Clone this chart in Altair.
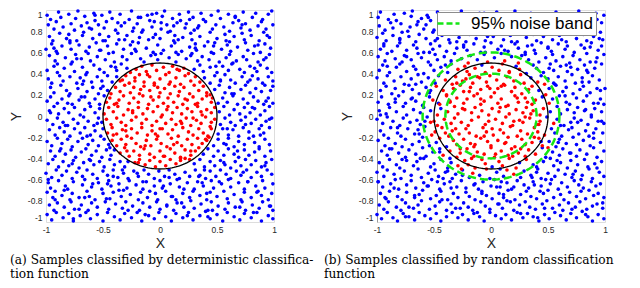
import altair as alt
import numpy as np
import pandas as pd

# ---------------- data (coordinates in hundredths) ----------------
LEFT_BLUE = [
(-99,95),(-96,91),(-89,98),(-87,93),(-80,96),(-74,92),(-72,99),(-66,94),(-58,97),(-57,90),(-51,95),(-44,98),(-42,92),(-35,96),(-27,91),(-25,99),(-19,93),(-11,95),(-9,90),(-3,97),(2,94),(4,99),(11,92),(17,96),(18,90),(25,98),(29,93),(36,97),(38,91),(45,95),(51,99),(53,92),(60,96),(66,94),(69,90),(73,98),(81,93),(84,97),(90,91),(95,96),(98,99),
(-98,86),(-93,82),(-91,89),(-85,84),(-78,87),(-75,81),(-69,85),(-64,88),(-60,82),(-54,86),(-49,83),(-47,89),(-39,81),(-34,85),(-31,88),(-23,83),(-20,87),(-15,81),(-7,84),(-5,89),(1,82),(6,86),(9,80),(15,88),(22,83),(23,87),(30,81),(34,85),(40,89),(46,82),(49,86),(56,84),(61,80),(64,88),(71,83),(75,87),(79,81),(86,85),(89,89),(93,82),(99,86),
(-97,75),(-94,71),(-88,78),(-82,73),(-80,77),(-73,71),(-68,76),(-67,79),(-59,73),(-53,77),(-50,71),(-45,75),(-37,78),(-36,72),(-29,76),(-24,70),(-18,74),(-16,79),(-10,72),(-4,77),(0,73),(7,79),(12,71),(13,76),(20,74),(27,78),(28,72),(35,75),(42,70),(44,79),(50,73),(57,77),(58,71),(65,75),(72,78),(74,72),(80,76),(87,71),(91,79),(96,74),
(-100,63),(-95,68),(-91,61),(-86,66),(-79,69),(-78,63),(-71,67),(-65,61),(-62,65),(-56,69),(-52,62),(-46,66),(-41,60),(-38,68),(-32,63),(-26,67),(-21,61),(-19,69),(-12,64),(-6,60),(-2,67),(3,62),(10,66),(13,69),(19,61),(26,65),(31,68),(32,62),(39,66),(45,60),(48,69),(54,63),(59,67),(62,61),(68,65),(75,69),(77,62),(83,66),(88,60),(92,68),(97,64),
(-97,57),(-92,52),(-90,59),(-83,55),(-77,51),(-74,58),(-69,54),(-63,59),(-61,52),(-55,56),(-48,53),(-45,59),(-40,51),(-33,56),(-29,53),(-25,59),(-17,54),(-14,51),(-8,57),(-2,53),(1,59),(8,55),(14,51),(16,58),(23,54),(28,59),(33,52),(37,56),(43,53),(47,59),(52,51),(58,55),(61,58),(67,52),(73,56),(76,53),(82,59),(86,51),(93,55),(96,58),
(-99,43),(-93,47),(-90,41),(-84,45),(-78,49),(-75,42),(-68,46),(-64,41),(-58,48),(-53,44),(-49,41),(-43,47),(-38,43),(-34,49),(-29,45),(30,44),(35,48),(38,42),(44,46),(50,41),(55,47),(60,43),(63,49),(70,44),(74,41),(79,47),(85,42),(88,48),(94,45),(98,41),
(-98,35),(-95,31),(-88,38),(-85,33),(-79,37),(-73,31),(-70,36),(-65,39),(-60,32),(-55,37),(-51,33),(-46,38),(-42,32),(-38,37),(39,36),(44,31),(48,38),(53,33),(57,39),(62,34),(66,31),(72,37),(77,32),(81,38),(86,35),(90,31),(95,37),(99,33),
(-96,27),(-93,22),(-87,29),(-82,24),(-79,21),(-72,26),(-68,30),(-64,23),(-59,27),(-54,21),(-50,28),(-46,24),(48,25),(52,29),(57,22),(61,27),(65,21),(71,25),(75,29),(79,22),(84,26),(89,23),(92,29),(97,24),
(-99,14),(-96,18),(-90,12),(-86,16),(-80,19),(-77,11),(-71,15),(-66,18),(-62,12),(-57,16),(-53,11),(-49,19),(51,12),(55,17),(59,13),(64,19),(68,11),(73,16),(77,12),(82,18),(86,14),(91,11),(95,17),(99,12),
(-97,5),(-93,9),(-89,2),(-84,7),(-80,3),(-75,8),(-70,1),(-66,6),(-61,9),(-57,3),(-53,7),(52,4),(56,9),(61,1),(65,6),(70,2),(74,8),(79,3),(83,7),(88,1),(92,5),(96,9),
(-99,-4),(-94,-8),(-90,-2),(-85,-6),(-81,-9),(-76,-3),(-72,-7),(-67,-1),(-63,-5),(-58,-9),(-54,-2),(-51,-6),(53,-8),(57,-2),(62,-6),(66,-9),(71,-4),(75,-1),(80,-7),(84,-3),(89,-9),(93,-5),(98,-2),
(-97,-13),(-92,-18),(-88,-11),(-84,-15),(-79,-19),(-75,-12),(-70,-16),(-66,-11),(-61,-18),(-57,-14),(-52,-19),(-50,-12),(51,-17),(55,-12),(60,-18),(64,-13),(69,-19),(73,-11),(78,-15),(82,-19),(87,-12),(91,-16),(96,-11),
(-99,-24),(-95,-28),(-90,-21),(-86,-26),(-81,-22),(-77,-29),(-72,-24),(-68,-21),(-63,-27),(-59,-23),(-54,-28),(-49,-22),(-45,-27),(47,-28),(51,-22),(56,-26),(60,-21),(65,-29),(69,-24),(74,-27),(78,-21),(83,-25),(87,-29),(92,-22),(96,-27),
(-96,-33),(-92,-38),(-87,-31),(-83,-36),(-78,-32),(-74,-39),(-69,-34),(-65,-31),(-60,-37),(-56,-33),(-51,-39),(-47,-32),(-43,-37),(-40,-32),(38,-36),(42,-31),(47,-38),(51,-33),(56,-37),(60,-31),(65,-36),(69,-39),(74,-32),(78,-37),(83,-34),(87,-31),(92,-38),(97,-33),
(-98,-45),(-94,-41),(-89,-48),(-85,-43),(-80,-47),(-76,-42),(-71,-49),(-67,-44),(-62,-41),(-58,-46),(-53,-43),(-49,-48),(-44,-41),(-40,-46),(-35,-43),(-31,-48),(-28,-43),(30,-45),(35,-41),(39,-48),(44,-43),(48,-47),(53,-42),(57,-46),(62,-49),(66,-43),(71,-47),(75,-41),(80,-46),(84,-42),(89,-48),(93,-44),(98,-41),
(-100,-54),(-95,-58),(-91,-51),(-86,-56),(-82,-52),(-77,-59),(-73,-53),(-68,-57),(-64,-51),(-59,-55),(-55,-59),(-50,-52),(-46,-56),(-41,-51),(-37,-58),(-32,-54),(-28,-59),(-23,-52),(-19,-57),(-14,-51),(-10,-55),(-5,-59),(-1,-52),(4,-57),(8,-51),(13,-55),(17,-59),(22,-53),(26,-57),(31,-51),(35,-56),(40,-59),(44,-52),(49,-57),(53,-51),(58,-55),(62,-59),(67,-52),(71,-56),(76,-51),(80,-58),(85,-53),(89,-57),(94,-51),(98,-55),
(-98,-63),(-96,-68),(-89,-61),(-83,-66),(-81,-69),(-76,-62),(-68,-65),(-66,-60),(-60,-67),(-54,-63),(-51,-69),(-45,-61),(-43,-66),(-36,-64),(-29,-68),(-27,-61),(-21,-65),(-15,-69),(-12,-62),(-5,-66),(0,-61),(2,-68),(9,-64),(15,-60),(17,-67),(24,-63),(30,-69),(33,-62),(38,-66),(45,-61),(47,-68),(54,-64),(60,-60),(62,-67),(69,-63),(74,-69),(77,-62),(84,-66),(90,-61),(92,-68),(99,-64),
(-99,-72),(-94,-77),(-92,-71),(-86,-75),(-79,-79),(-77,-73),(-71,-77),(-64,-71),(-62,-76),(-57,-79),(-50,-73),(-47,-78),(-41,-72),(-34,-76),(-32,-70),(-26,-74),(-19,-79),(-17,-72),(-11,-77),(-4,-73),(-2,-79),(5,-71),(11,-76),(14,-79),(20,-73),(26,-77),(29,-71),(35,-75),(41,-79),(44,-72),(50,-76),(56,-71),(59,-78),(65,-74),(71,-79),(74,-72),(80,-77),(86,-71),(89,-75),(95,-79),(98,-73),
(-97,-84),(-93,-89),(-90,-82),(-84,-86),(-78,-81),(-75,-88),(-69,-84),(-63,-89),(-60,-82),(-55,-86),(-48,-81),(-45,-88),(-39,-83),(-33,-87),(-30,-81),(-24,-85),(-18,-89),(-15,-82),(-9,-86),(-3,-81),(0,-88),(6,-84),(12,-89),(15,-82),(21,-86),(27,-80),(30,-87),(36,-83),(42,-89),(45,-81),(51,-85),(57,-88),(60,-82),(66,-86),(72,-81),(75,-89),(81,-84),(87,-87),(90,-81),(96,-85),(99,-89),
(-99,-93),(-95,-98),(-91,-91),(-85,-96),(-80,-92),(-76,-99),(-70,-94),(-65,-91),(-61,-97),(-55,-93),(-50,-99),(-46,-91),(-40,-95),(-35,-98),(-31,-92),(-25,-96),(-20,-91),(-16,-99),(-10,-94),(-5,-97),(-1,-91),(5,-95),(10,-99),(14,-92),(20,-96),(25,-91),(29,-98),(35,-94),(40,-90),(44,-97),(50,-93),(55,-99),(59,-91),(65,-95),(70,-98),(74,-92),(80,-96),(85,-91),(89,-99),(95,-94),(99,-97),
(-93,64),(-81,12),(-77,-45),(-62,83),(-55,-7),(-48,71),(-71,-88),(-88,-33),(-67,33),(-59,-64),(-44,-78),(-37,88),(-33,-51),(-22,63),(-13,-93),(-6,74),(3,-66),(12,85),(19,-82),(27,57),(34,-57),(41,-73),(47,66),(56,-44),(63,21),(68,-33),(72,86),(77,-62),(83,45),(88,-18),(94,76),(97,-85),(-96,3),(-84,-70),(-73,54),(-64,-19),(-57,95),(-46,-64),(-39,46),(-28,-89),(-17,93),(-9,-71),(1,88),(8,-58),(16,72),(24,-94),(31,64),(39,-51),(46,-89),(53,34),(59,-12),(66,93),(73,-53),(81,8),(86,67),(92,-47),(99,28),(-98,-60),(-90,49),(-83,-9),(-76,-97),(-69,18),(-61,-42),(-53,62),(-44,-30),(-36,-70),(-24,80),(-15,-62),(-7,96),(6,-85),(14,60),(21,-69),(33,83),(42,-95),(49,47),(58,-27),(64,50),(70,-86),(79,34),(85,-72),(91,53),(96,-3),(-92,-79),(-79,71),(-66,-77),(-52,26),(-41,-57),(-31,72),(-20,-54),(-4,58),(10,-76),(26,91),(37,-63),(52,-62),(61,70),(75,-8),(82,-91),(93,14),
]

LEFT_RED = [
(-26,41),(-21,44),(-16,47),(-12,42),(-7,48),(-3,43),(3,46),(8,41),(11,47),(17,43),(21,45),(25,40),
(-35,33),(-30,38),(-27,31),(-22,36),(-18,39),(-14,32),(-9,37),(-5,31),(0,35),(5,39),(9,32),(14,36),(18,30),(22,38),(27,33),(31,37),(35,32),
(-43,21),(-39,27),(-35,23),(-31,29),(-26,22),(-23,27),(-18,21),(-14,28),(-9,24),(-5,29),(0,22),(4,26),(9,21),(13,28),(17,23),(21,27),(26,21),(30,29),(34,24),(38,28),(41,22),(44,20),
(-47,13),(-44,17),(-40,11),(-36,15),(-32,19),(-27,12),(-23,17),(-19,13),(-15,19),(-10,11),(-6,15),(-1,18),(3,12),(7,17),(12,13),(16,19),(20,11),(24,15),(29,18),(33,12),(37,16),(41,19),(45,13),(46,17),
(-49,2),(-45,8),(-41,4),(-37,9),(-32,1),(-28,6),(-24,3),(-19,8),(-15,2),(-11,7),(-6,4),(-2,9),(2,1),(6,6),(11,3),(15,8),(19,2),(24,7),(28,4),(33,9),(37,1),(41,6),(45,3),(48,8),
(-47,-3),(-43,-8),(-38,-2),(-34,-6),(-30,-9),(-25,-4),(-21,-1),(-16,-7),(-12,-3),(-7,-9),(-3,-5),(1,-1),(5,-7),(10,-3),(14,-8),(18,-5),(23,-2),(27,-9),(32,-4),(36,-7),(40,-1),(45,-6),(48,-3),
(-46,-16),(-42,-11),(-38,-17),(-33,-13),(-29,-19),(-25,-12),(-20,-16),(-16,-11),(-11,-18),(-7,-14),(-2,-19),(2,-12),(7,-17),(11,-13),(16,-19),(20,-11),(25,-15),(29,-18),(34,-12),(38,-16),(42,-19),(45,-12),
(-42,-23),(-38,-28),(-34,-22),(-30,-27),(-25,-21),(-21,-26),(-17,-29),(-12,-23),(-8,-28),(-3,-22),(1,-26),(6,-29),(10,-21),(15,-25),(19,-28),(24,-22),(28,-27),(33,-21),(37,-26),(41,-23),(43,-20),
(-35,-35),(-31,-30),(-27,-38),(-23,-33),(-18,-37),(-14,-31),(-9,-36),(-5,-39),(0,-33),(4,-38),(9,-31),(13,-35),(18,-39),(22,-32),(27,-37),(31,-33),(34,-30),
(-22,-44),(-18,-41),(-13,-46),(-9,-42),(-4,-48),(0,-43),(5,-47),(9,-41),(14,-45),(18,-42),(22,-40),(26,-41),
(-38,12),(-29,-33),(-17,25),(-4,-17),(8,30),(19,-7),(31,11),(40,-22),(-11,39),(3,-38),(-41,-18),(-24,5),(12,-27),(27,-33),(36,4),(-8,18),(-33,34),(15,44),(-19,-44),(44,-10),(0,-12),(22,16),(-13,-28),(7,9),(-30,-14),(29,-2),(-2,27),(18,-40),(-22,33),
]

RIGHT_BLUE = [
(-99,93),(-97,98),(-90,91),(-85,96),(-83,90),(-76,97),(-70,94),(-69,99),(-61,92),(-56,95),(-53,90),(-47,98),(-40,93),(-38,96),(-31,91),(-26,99),(-23,94),(-17,92),(-10,97),(-8,90),(-1,95),(5,98),(6,91),(13,96),(19,93),(21,99),(28,90),(33,94),(35,97),(42,92),(48,95),(50,91),(57,98),(63,93),(64,96),(71,90),(77,99),(80,94),(86,92),(92,97),(93,91),(99,95),
(-98,85),(-93,81),(-88,88),(-86,83),(-79,87),(-73,80),(-71,84),(-64,89),(-59,82),(-57,86),(-50,81),(-44,88),(-42,84),(-36,80),(-29,87),(-27,83),(-20,89),(-14,85),(-12,81),(-5,86),(0,82),(3,88),(10,84),(16,80),(18,87),(25,83),(30,89),(32,81),(39,85),(45,88),(47,82),(54,86),(59,80),(62,84),(68,89),(74,83),(76,87),(83,81),(89,86),(91,82),(97,88),
(-100,74),(-95,78),(-92,71),(-86,76),(-80,72),(-78,79),(-72,75),(-66,70),(-63,77),(-57,73),(-51,79),(-49,71),(-43,76),(-37,72),(-35,78),(-28,74),(-22,70),(-19,77),(-13,73),(-7,79),(-5,71),(2,75),(8,78),(11,72),(17,76),(23,70),(25,79),(31,74),(37,77),(40,71),(46,75),(52,79),(54,72),(60,76),(66,70),(69,78),(75,73),(81,77),(84,71),(90,75),(96,79),(98,72),
(-97,63),(-94,68),(-87,61),(-82,66),(-80,69),(-74,62),(-68,67),(-65,64),(-59,60),(-53,68),(-51,63),(-45,66),(-39,61),(-36,69),(-30,64),(-24,67),(-21,62),(-15,68),(-9,60),(-6,65),(0,69),(6,63),(9,66),(15,61),(21,68),(24,64),(30,60),(36,67),(38,62),(44,69),(50,65),(53,61),(59,68),(65,63),(67,66),(73,60),(79,67),(82,64),(88,69),(94,62),(97,66),
(-99,56),(-93,52),(-91,59),(-84,54),(-78,51),(-76,57),(-70,53),(-64,59),(-61,55),(-55,51),(-49,58),(-47,53),(-41,56),(-35,52),(-32,59),(-26,54),(-18,57),(-12,53),(-6,58),(3,55),(9,59),(18,56),(27,57),(33,53),(39,59),(42,51),(48,55),(54,58),(57,52),(63,56),(69,50),(72,57),(78,53),(84,59),(87,51),(93,55),(99,58),
(-98,43),(-95,48),(-89,41),(-83,46),(-80,49),(-74,42),(-68,47),(-66,44),(-59,40),(-53,48),(-50,43),(-44,46),(-38,41),(-35,49),(-8,48),(22,47),(31,40),(37,48),(40,45),(46,41),(52,49),(55,43),(61,47),(67,42),(70,46),(76,44),(82,48),(85,41),(91,45),(97,49),
(-100,36),(-94,31),(-91,38),(-85,33),(-79,37),(-76,30),(-70,35),(-64,39),(-61,32),(-55,36),(-49,31),(-46,38),(35,36),(44,38),(50,35),(56,30),(59,37),(65,33),(71,39),(74,31),(80,36),(86,32),(89,38),(95,34),
(-97,24),(-92,28),(-87,21),(-84,26),(-77,23),(-72,29),(-69,25),(-63,21),(-57,27),(-54,22),(42,24),(51,26),(57,29),(63,23),(66,27),(72,21),(78,25),(81,28),(87,22),(93,26),(96,24),
(-99,13),(-96,18),(-90,11),(-84,16),(-81,19),(-75,12),(-69,17),(-66,14),(-60,10),(-54,18),(45,18),(54,16),(60,19),(66,13),(69,11),(75,17),(81,14),(84,19),(90,12),(96,16),(99,11),
(-98,5),(-92,2),(-89,8),(-83,4),(-77,9),(-74,1),(-68,6),(-62,3),(-59,8),(-53,5),(-44,7),(52,4),(58,9),(61,2),(67,6),(73,3),(76,8),(82,5),(88,1),(91,7),(97,4),
(-100,-3),(-95,-7),(-91,-1),(-86,-5),(-80,-9),(-77,-2),(-71,-6),(-65,-4),(-62,-8),(-56,-1),(49,-1),(58,-3),(64,-9),(70,-6),(73,-2),(79,-4),(85,-8),(88,-1),(94,-5),(99,-7),
(-97,-14),(-94,-18),(-88,-11),(-82,-16),(-79,-19),(-73,-12),(-67,-17),(-64,-13),(-58,-10),(53,-12),(56,-16),(62,-19),(68,-13),(71,-11),(77,-17),(83,-14),(86,-19),(92,-12),(98,-16),
(-99,-23),(-93,-28),(-90,-21),(-84,-26),(-78,-29),(-75,-22),(-69,-27),(-63,-24),(-60,-20),(-54,-28),(-48,-25),(-39,-29),(51,-24),(57,-29),(60,-22),(66,-26),(72,-20),(75,-27),(81,-23),(87,-28),(90,-21),(96,-25),
(-96,-33),(-91,-37),(-87,-31),(-81,-35),(-75,-39),(-72,-32),(-66,-36),(-60,-30),(-57,-38),(-51,-34),(-45,-31),(45,-30),(48,-39),(54,-34),(60,-37),(63,-31),(69,-35),(75,-38),(78,-32),(84,-36),(90,-30),(93,-39),(99,-33),
(-98,-44),(-95,-48),(-89,-41),(-83,-46),(-80,-49),(-74,-42),(-68,-47),(-65,-43),(-59,-40),(-53,-48),(-50,-45),(-44,-41),(-38,-49),(-35,-44),(1,-48),(25,-44),(37,-46),(40,-48),(46,-43),(52,-40),(55,-47),(61,-44),(67,-49),(70,-42),(76,-46),(82,-41),(85,-48),(91,-45),(97,-43),
(-100,-53),(-94,-57),(-91,-51),(-85,-55),(-79,-59),(-76,-52),(-70,-56),(-64,-50),(-61,-58),(-55,-54),(-49,-51),(-46,-57),(-40,-53),(-34,-59),(-31,-55),(-25,-51),(-19,-58),(-10,-56),(-1,-59),(5,-53),(11,-57),(26,-58),(29,-52),(35,-56),(41,-50),(44,-59),(50,-54),(56,-57),(59,-51),(65,-55),(71,-58),(74,-52),(80,-56),(86,-50),(89,-59),(95,-53),(99,-57),
(-99,-62),(-95,-67),(-88,-64),(-84,-60),(-81,-69),(-74,-65),(-70,-61),(-66,-68),(-59,-63),(-55,-66),(-52,-60),(-45,-69),(-41,-64),(-36,-62),(-30,-67),(-26,-61),(-22,-68),(-15,-65),(-11,-69),(-7,-62),(0,-66),(3,-60),(8,-67),(14,-63),(18,-69),(23,-61),(29,-65),(33,-68),(37,-62),(44,-66),(48,-60),(52,-64),(59,-69),(62,-63),(67,-67),(73,-61),(77,-65),(81,-68),(88,-62),(92,-66),(96,-64),
(-97,-73),(-92,-78),(-89,-71),(-82,-76),(-78,-79),(-74,-72),(-67,-77),(-63,-74),(-60,-70),(-53,-78),(-48,-75),(-44,-71),(-38,-79),(-33,-73),(-29,-77),(-22,-72),(-19,-76),(-14,-79),(-8,-71),(-4,-75),(1,-78),(7,-73),(11,-77),(15,-70),(21,-79),(26,-74),(31,-71),(35,-76),(40,-78),(46,-73),(50,-70),(55,-77),(61,-74),(64,-79),(69,-72),(75,-76),(79,-71),(83,-78),(90,-75),(94,-73),(99,-77),
(-98,-84),(-94,-88),(-90,-81),(-83,-86),(-79,-89),(-75,-82),(-68,-87),(-64,-84),(-61,-80),(-54,-88),(-49,-85),(-45,-81),(-39,-89),(-35,-83),(-31,-87),(-24,-82),(-20,-86),(-16,-89),(-9,-81),(-5,-85),(-1,-88),(6,-83),(10,-87),(14,-80),(20,-89),(25,-84),(30,-81),(34,-86),(39,-88),(45,-83),(49,-80),(54,-87),(60,-84),(63,-89),(68,-82),(74,-86),(78,-81),(84,-88),(89,-85),(93,-83),(98,-87),
(-100,-93),(-96,-97),(-91,-91),(-86,-96),(-82,-99),(-77,-92),(-72,-95),(-67,-98),(-63,-91),(-58,-94),(-53,-97),(-48,-92),(-44,-99),(-39,-95),(-34,-91),(-29,-96),(-25,-93),(-20,-98),(-15,-92),(-10,-95),(-6,-99),(-1,-91),(4,-94),(9,-97),(13,-93),(18,-98),(23,-91),(28,-96),(32,-92),(37,-95),(42,-99),(47,-93),(51,-97),(56,-91),(61,-94),(66,-98),(70,-92),(75,-96),(80,-90),(85,-95),(89,-99),(94,-93),(99,-97),
(-94,66),(-84,13),(-78,-41),(-65,86),(-58,-5),(-47,73),(-72,-86),(-89,-31),(-66,30),(-56,-66),(-43,-79),(-35,90),(-38,-52),(-24,65),(-12,-91),(-3,75),(5,-67),(14,83),(17,-81),(30,58),(36,-58),(43,-71),(50,64),(58,-42),(65,19),(70,-35),(74,88),(79,-60),(84,43),(90,-16),(95,73),(98,-82),(-97,1),(-85,-68),(-74,56),(-63,-17),(-55,93),(-47,-62),(-40,48),(-27,-87),(-18,95),(-8,-73),(2,86),(9,-62),(18,70),(26,-92),(32,66),(40,-53),(47,-87),(55,31),(61,-9),(67,95),(72,-55),(83,6),(87,65),(93,-49),(100,26),(-99,-62),(-91,47),(-82,-11),(-75,-95),(-70,16),(-62,-40),(-54,60),(-45,-34),(-35,-68),(-26,78),(-14,-64),(-6,97),(7,-83),(12,62),(20,-67),(34,85),(41,-96),(51,45),(59,-25),(66,48),(71,-88),(80,32),(86,-70),(92,51),(97,-5),(-93,-77),(-80,73),(-67,-75),(-53,24),(-42,-59),(-30,70),(-25,-56),(-5,60),(11,-74),(28,93),(38,-65),(53,-60),(62,72),(76,-6),(83,-93),(94,12),(-46,12),(44,-24),(-36,-40),(8,-50),
]

RIGHT_RED = [
(-20,50),(-3,51),(12,52),(24,50),
(-29,44),(-23,47),(-21,42),(-14,45),(-5,41),(1,46),(7,43),(10,49),(16,42),(25,44),
(-40,34),(-34,30),(-31,37),(-25,33),(-19,39),(-16,31),(-10,36),(-4,32),(-1,38),(5,34),(11,30),(14,37),(20,33),(26,39),(29,31),(41,32),
(-48,28),(-42,24),(-39,20),(-33,26),(-27,29),(-24,23),(-18,27),(-12,21),(-9,25),(-3,28),(3,22),(6,26),(12,29),(18,23),(21,27),(27,21),(33,25),(36,28),(48,20),
(-51,15),(-45,11),(-39,19),(-36,13),(-30,17),(-24,12),(-21,16),(-15,19),(-9,11),(-6,14),(0,18),(6,12),(9,16),(15,10),(21,19),(24,13),(30,17),(36,11),(39,15),(51,12),
(-47,1),(-38,4),(-32,9),(-29,2),(-23,6),(-17,3),(-14,8),(-8,5),(-2,1),(1,7),(7,4),(13,9),(16,2),(22,6),(28,3),(31,8),(37,5),(43,1),(46,7),
(-50,-5),(-47,-9),(-41,-3),(-35,-7),(-32,-2),(-26,-6),(-20,-9),(-17,-4),(-11,-1),(-5,-8),(-2,-5),(4,-3),(10,-7),(13,-1),(19,-9),(25,-4),(28,-6),(34,-2),(40,-8),(43,-5),(55,-7),
(-52,-18),(-49,-15),(-43,-11),(-37,-19),(-34,-14),(-28,-17),(-22,-12),(-19,-16),(-13,-19),(-7,-11),(-4,-15),(2,-18),(8,-13),(11,-16),(17,-10),(23,-19),(26,-14),(32,-17),(38,-11),(41,-15),(47,-18),
(-45,-21),(-33,-23),(-30,-27),(-24,-22),(-18,-26),(-15,-29),(-9,-21),(-3,-24),(0,-28),(6,-23),(12,-26),(15,-20),(21,-29),(27,-22),(30,-27),(36,-25),(42,-21),(45,-28),
(-42,-37),(-36,-33),(-30,-39),(-27,-35),(-21,-31),(-15,-38),(-12,-34),(-6,-36),(0,-30),(3,-39),(9,-33),(15,-37),(18,-31),(24,-35),(30,-38),(33,-32),(39,-36),
(-29,-47),(-23,-42),(-20,-46),(-14,-49),(-8,-41),(-5,-45),(7,-43),(10,-47),(16,-40),(22,-49),(31,-41),
(-16,-54),(-4,-50),(14,-51),(20,-55),
(-36,14),(-27,-31),(-19,23),(-6,-19),(9,28),(20,-5),(32,13),(38,-20),(-12,37),(4,-36),(-40,-16),(-25,7),(13,-25),(26,-31),(35,2),(-9,16),(-30,31),(16,41),(-17,-40),(42,-8),(1,-12),(23,17),(-14,-27),(8,8),(-31,-12),(30,-1),(-1,26),(19,-38),(-22,35),(50,-30),(-53,-6),(47,30),(-26,-50),
]

CLASS_BOUNDARY_RADIUS = [0.5]
NOISE_BAND_RADII = [0.4, 0.6]
X_TICKS = [-1, -0.5, 0, 0.5, 1]
Y_TICKS = [-1, -0.8, -0.6, -0.4, -0.2, 0, 0.2, 0.4, 0.6, 0.8, 1]
LEGEND_LABEL = "95% noise band"
CAPTION_A = ["(a) Samples classified by deterministic classifica-", "tion function"]
CAPTION_B = ["(b) Samples classified by random classification", "function"]

BLUE = "#0000ff"
RED = "#ff0000"
GREEN = "#14e614"
SANS = "Liberation Sans"
SERIF = "DejaVu Serif"

W, H = 228, 212
DOT = 13


def pts(pairs):
    return pd.DataFrame({"x": [p[0] / 100 for p in pairs], "y": [p[1] / 100 for p in pairs]})


def ring(radii):
    t = np.linspace(0, 2 * np.pi, 181)
    frames = []
    for r in radii:
        frames.append(pd.DataFrame({"x": r * np.cos(t), "y": r * np.sin(t),
                                    "i": np.arange(len(t)), "ring": str(r),
                                    "band": LEGEND_LABEL}))
    return pd.concat(frames, ignore_index=True)


XS = alt.Scale(domain=[-1, 1], nice=False, zero=False)
YS = alt.Scale(domain=[-1, 1], nice=False, zero=False)


def x_axis(domain):
    return alt.Axis(values=X_TICKS, labelExpr="'' + datum.value", title="X", grid=False,
                    ticks=False, domain=domain, domainColor="#9a9a9a", labelFont=SANS,
                    labelFontSize=8.5, labelColor="#262626", labelPadding=3, labelFlush=False,
                    titleFont=SANS, titleFontSize=14, titleFontWeight="normal",
                    titleColor="#262626", titlePadding=3)


def y_axis(domain):
    return alt.Axis(values=Y_TICKS, labelExpr="'' + datum.value", title="Y", grid=False,
                    ticks=False, domain=domain, domainColor="#9a9a9a", labelFont=SANS,
                    labelFontSize=8.5, labelColor="#262626", labelPadding=4, labelFlush=True,
                    titleFont=SANS, titleFontSize=14, titleFontWeight="normal",
                    titleColor="#262626", titlePadding=4)


def panel(blue, red, caption, dx, x_dom, y_dom, noise):
    enc = dict(x=alt.X("x:Q", scale=XS, axis=x_axis(x_dom)),
               y=alt.Y("y:Q", scale=YS, axis=y_axis(y_dom)))
    layers = [
        alt.Chart(pts(blue)).mark_circle(size=DOT, color=BLUE, opacity=1).encode(**enc),
        alt.Chart(pts(red)).mark_circle(size=DOT, color=RED, opacity=1).encode(**enc),
        alt.Chart(ring(CLASS_BOUNDARY_RADIUS)).mark_line(color="black", strokeWidth=1.3)
        .encode(order="i:Q", **enc),
    ]
    if noise:
        layers.append(
            alt.Chart(ring(NOISE_BAND_RADII)).mark_line(strokeWidth=2.5, strokeDash=[8, 4])
            .encode(order="i:Q", detail="ring:N",
                    color=alt.Color("band:N", scale=alt.Scale(domain=[LEGEND_LABEL], range=[GREEN]),
                                    legend=alt.Legend(title=None, orient="none", legendX=60, legendY=2,
                                                      fillColor="white", strokeColor="#8c8c8c",
                                                      padding=3, cornerRadius=0,
                                                      symbolType="M-2.2,0H2.2", symbolSize=100,
                                                      symbolStrokeWidth=2.5, symbolDash=[6, 3],
                                                      labelFont=SANS, labelFontSize=17,
                                                      labelColor="black", labelOffset=14,
                                                      labelLimit=300)),
                    **enc))
    return alt.layer(*layers).properties(
        width=W, height=H,
        title=alt.TitleParams(caption, orient="bottom", anchor="start", frame="group", dx=dx,
                              offset=3, font=SERIF, fontSize=12.2, fontWeight="normal",
                              color="black", lineHeight=14))


left = panel(LEFT_BLUE, LEFT_RED, CAPTION_A, -36, False, False, False)
right = panel(RIGHT_BLUE, RIGHT_RED, CAPTION_B, -53, False, True, True)

chart = (alt.hconcat(left, right, spacing=103)
         .resolve_legend(color="independent")
         .properties(bounds="flush", padding=0)
         .configure_view(stroke=None)
         .configure(background="white"))

chart.save("out.html", embed_options={"renderer": "svg", "actions": False})
